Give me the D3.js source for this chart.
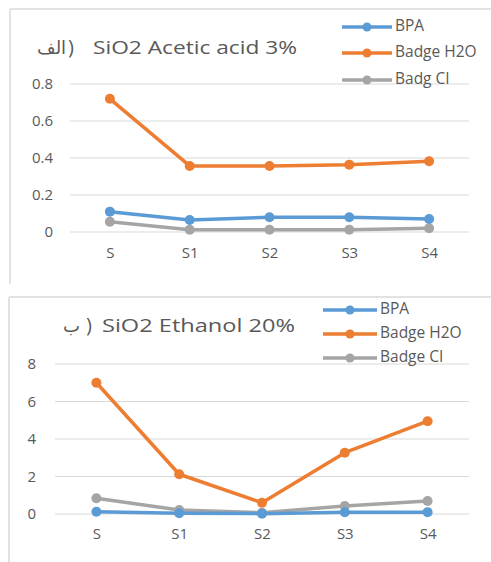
<!DOCTYPE html>
<html>
<head>
<meta charset="utf-8">
<script src="https://cdn.jsdelivr.net/npm/d3@7"></script>
<style>
  html, body { margin: 0; padding: 0; background: #fff; }
  svg { display: block; }
  text { font-family: "Open Sans", "DejaVu Sans", sans-serif; }
</style>
</head>
<body>
<svg id="chart" width="491" height="562"></svg>
<script>
// ---- Data ----
const categories = ["S", "S1", "S2", "S3", "S4"];

// Panel A: SiO2 Acetic acid 3%
const titleArabicA = "الف";
const titleA = "SiO2 Acetic acid 3%";
const seriesNamesA = ["BPA", "Badge H2O", "Badg CI"];
const bpaA = [0.11, 0.065, 0.08, 0.08, 0.07];
const h2oA = [0.72, 0.357, 0.357, 0.364, 0.382];
const ciA = [0.055, 0.012, 0.012, 0.012, 0.02];
const ticksA = [0, 0.2, 0.4, 0.6, 0.8];

// Panel B: SiO2 Ethanol 20%
const titleArabicB = "ب";
const titleB = "SiO2 Ethanol 20%";
const seriesNamesB = ["BPA", "Badge H2O", "Badge CI"];
const bpaB = [0.12, 0.04, 0.02, 0.09, 0.1];
const h2oB = [7.0, 2.12, 0.6, 3.27, 4.95];
const ciB = [0.84, 0.21, 0.07, 0.43, 0.69];
const ticksB = [0, 2, 4, 6, 8];

const colors = ["#5B9BD5", "#ED7D31", "#A5A5A5"];
const textColor = "#595959";

const svg = d3.select("#chart");

function drawPanel(cfg) {
  const g = svg.append("g");
  // panel border (top and left visible)
  g.append("line").attr("x1", cfg.px).attr("x2", 491).attr("y1", cfg.py).attr("y2", cfg.py)
    .attr("stroke", "#d9d9d9").attr("stroke-width", 1.5);
  g.append("line").attr("x1", cfg.px).attr("x2", cfg.px).attr("y1", cfg.py).attr("y2", cfg.pyBottom)
    .attr("stroke", "#d9d9d9").attr("stroke-width", 1.5);

  const x = d3.scalePoint().domain(categories).range([cfg.x0, cfg.x1]).padding(0.5);
  const y = d3.scaleLinear().domain([0, cfg.ymax]).range([cfg.yBase, cfg.yTop]);

  // gridlines
  g.selectAll(".grid").data(cfg.ticks).enter().append("line")
    .attr("x1", cfg.x0).attr("x2", cfg.x1)
    .attr("y1", d => y(d)).attr("y2", d => y(d))
    .attr("stroke", "#d9d9d9").attr("stroke-width", 1);

  // y axis labels
  const yAxis = d3.axisLeft(y).tickValues(cfg.ticks).tickSize(0).tickPadding(0)
    .tickFormat(d => d === 0 ? "0" : d3.format(cfg.fmt)(d));
  const ya = g.append("g").attr("transform", `translate(${cfg.yLabelX},0)`).call(yAxis);
  ya.select(".domain").remove();
  ya.selectAll("text").attr("fill", textColor).style("font-size", "15px")
    .style("font-family", "'Open Sans', 'DejaVu Sans', sans-serif");

  // x axis labels
  const xAxis = d3.axisBottom(x).tickSize(0).tickPadding(0);
  const xa = g.append("g").attr("transform", `translate(0,${cfg.xLabelY})`).call(xAxis);
  xa.select(".domain").remove();
  xa.selectAll("text").attr("fill", textColor).style("font-size", "15px")
    .style("font-family", "'Open Sans', 'DejaVu Sans', sans-serif");

  // series
  const line = d3.line().x((d, i) => x(categories[i])).y(d => y(d));
  const order = [2, 0, 1];
  order.forEach(k => {
    const vals = cfg.series[k];
    g.append("path").datum(vals).attr("d", line)
      .attr("fill", "none").attr("stroke", colors[k]).attr("stroke-width", 3.5)
      .attr("stroke-linejoin", "round").attr("stroke-linecap", "round");
    g.selectAll(null).data(vals).enter().append("circle")
      .attr("cx", (d, i) => x(categories[i])).attr("cy", d => y(d)).attr("r", 5)
      .attr("fill", colors[k]);
  });

  // title
  g.append("text").attr("x", cfg.arX).attr("y", cfg.titleY)
    .attr("fill", textColor).style("font-size", "18px").attr("dominant-baseline", "middle")
    .style("font-family", "'DejaVu Sans', sans-serif")
    .text(cfg.arabic);
  g.append("text").attr("x", cfg.parX).attr("y", cfg.titleY)
    .attr("fill", textColor).style("font-size", "20px").attr("dominant-baseline", "middle")
    .attr("direction", "ltr")
    .text("\u200E)\u200E");
  g.append("text").attr("x", cfg.titleX).attr("y", cfg.titleY)
    .attr("fill", textColor).style("font-size", "18px").attr("dominant-baseline", "middle")
    .attr("textLength", cfg.titleW).attr("lengthAdjust", "spacingAndGlyphs")
    .text(cfg.title);

  // legend
  cfg.names.forEach((n, i) => {
    const ly = cfg.legY[i];
    g.append("line").attr("x1", cfg.legX0).attr("x2", cfg.legX1).attr("y1", ly).attr("y2", ly)
      .attr("stroke", colors[i]).attr("stroke-width", 3.5);
    g.append("circle").attr("cx", (cfg.legX0 + cfg.legX1) / 2).attr("cy", ly).attr("r", 4.5)
      .attr("fill", colors[i]);
    g.append("text").attr("x", cfg.legX1 + 3).attr("y", ly).attr("dominant-baseline", "middle")
      .attr("fill", textColor).style("font-size", "15.5px").text(n);
  });
}

drawPanel({
  px: 10, py: 9, pyBottom: 284,
  x0: 70, x1: 469, yBase: 232, yTop: 84, ymax: 0.8,
  ticks: ticksA, fmt: ".1f", yLabelX: 53, xLabelY: 247,
  series: [bpaA, h2oA, ciA], names: seriesNamesA,
  arabic: titleArabicA, arX: 37, parX: 68, title: titleA, titleX: 93, titleW: 204, titleY: 49,
  legX0: 342, legX1: 392, legY: [27, 53, 80]
});

drawPanel({
  px: 9, py: 297, pyBottom: 562,
  x0: 55, x1: 469, yBase: 514, yTop: 364, ymax: 8,
  ticks: ticksB, fmt: "d", yLabelX: 36, xLabelY: 528,
  series: [bpaB, h2oB, ciB], names: seriesNamesB,
  arabic: titleArabicB, arX: 63, parX: 86, title: titleB, titleX: 102, titleW: 193, titleY: 327,
  legX0: 323, legX1: 377, legY: [310, 334, 358]
});
</script>
</body>
</html>
